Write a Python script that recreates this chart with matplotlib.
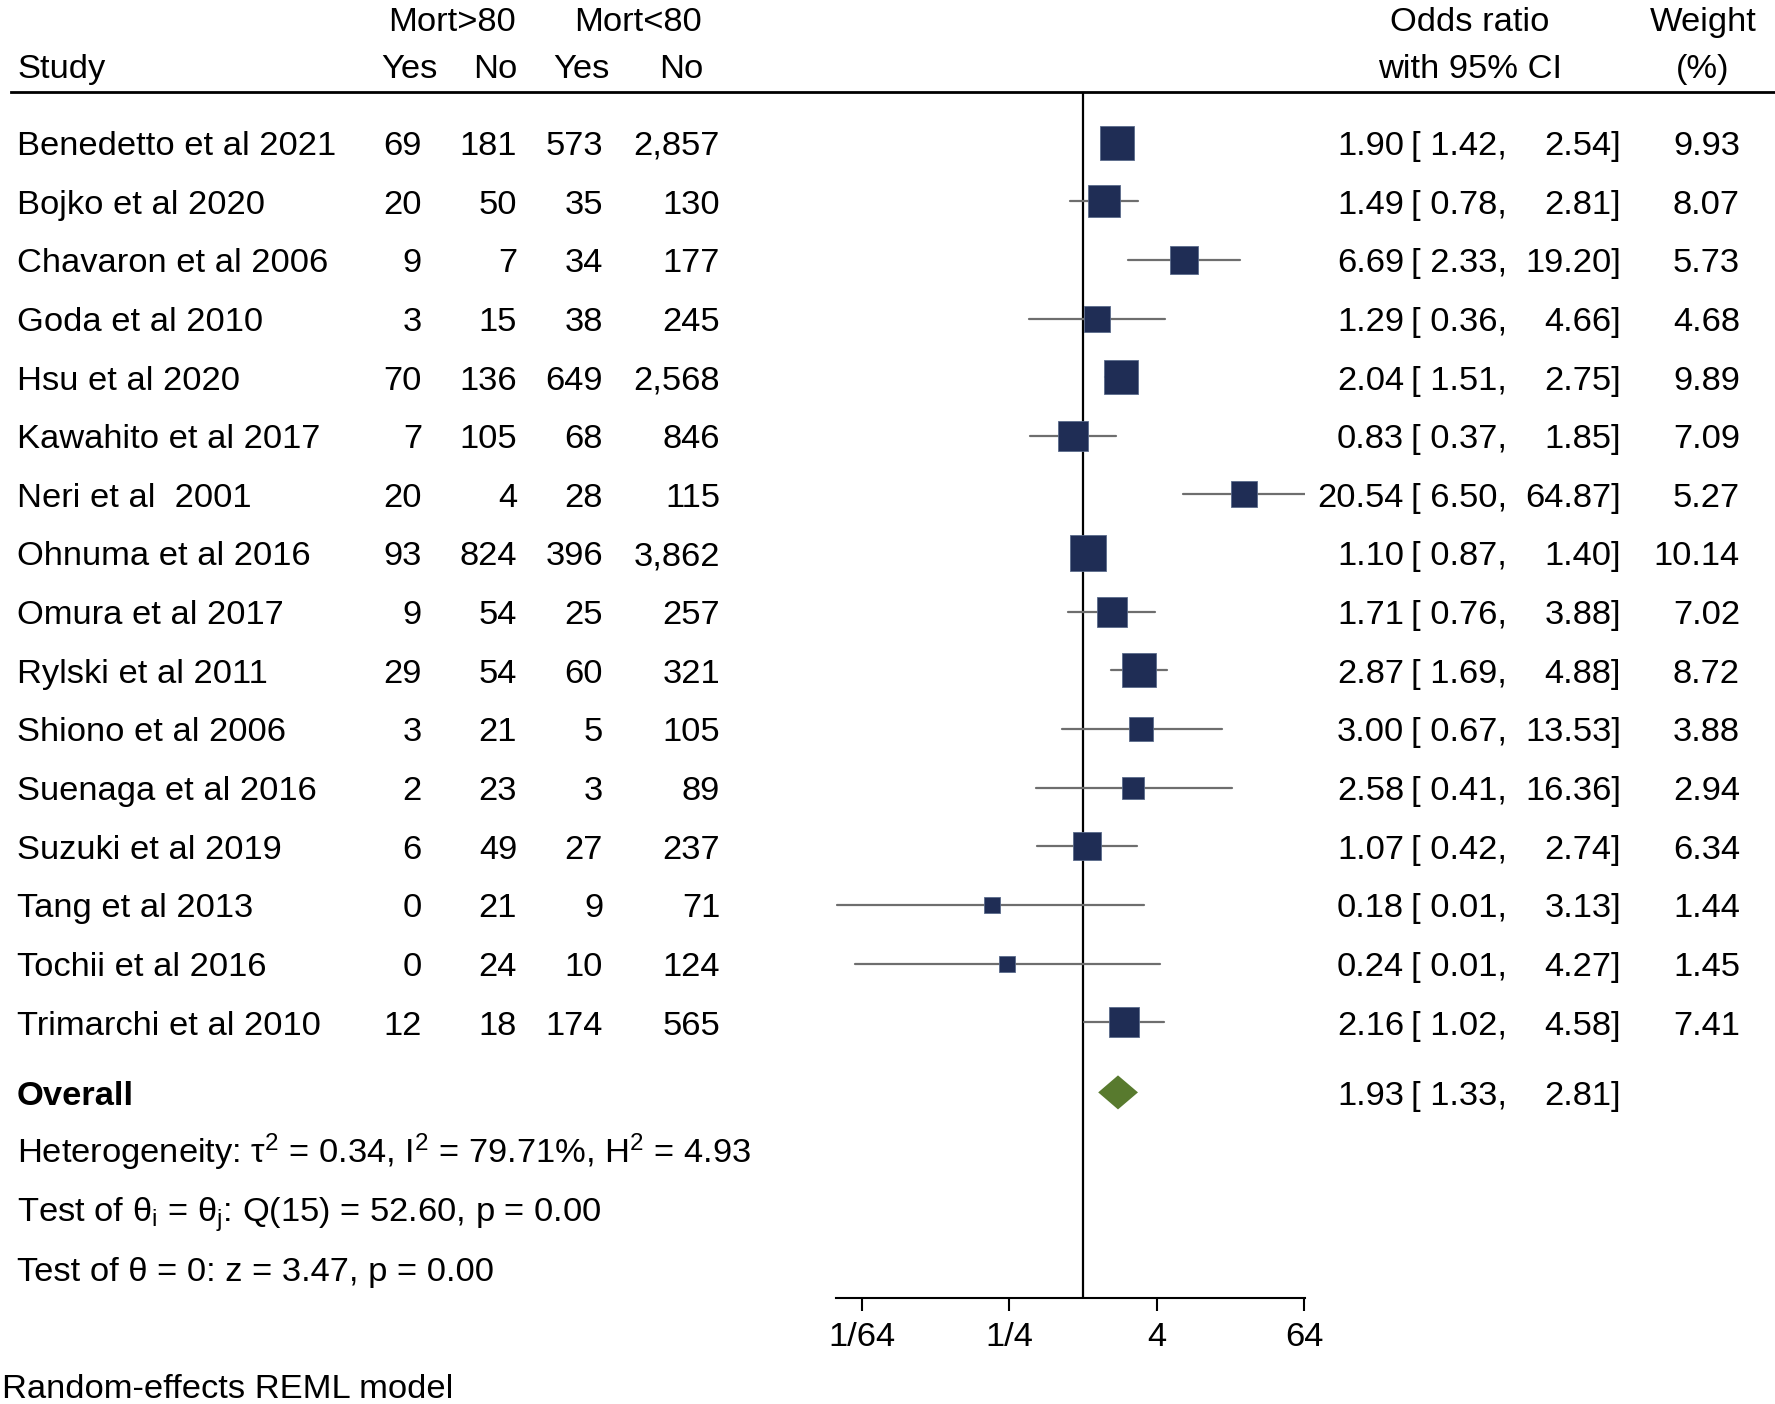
import matplotlib
matplotlib.use("Agg")
import matplotlib.pyplot as plt
import matplotlib.transforms as mtransforms
from matplotlib.lines import Line2D
import numpy as np

plt.rcParams['font.family'] = ['Liberation Sans', 'DejaVu Sans']
plt.rcParams['mathtext.fontset'] = 'custom'
plt.rcParams['mathtext.rm'] = 'Liberation Sans'
plt.rcParams['mathtext.it'] = 'Liberation Sans:italic'

studies = ["Benedetto et al 2021", "Bojko et al 2020", "Chavaron et al 2006",
           "Goda et al 2010", "Hsu et al 2020", "Kawahito et al 2017",
           "Neri et al  2001", "Ohnuma et al 2016", "Omura et al 2017",
           "Rylski et al 2011", "Shiono et al 2006", "Suenaga et al 2016",
           "Suzuki et al 2019", "Tang et al 2013", "Tochii et al 2016",
           "Trimarchi et al 2010"]
yes_gt80 = [69, 20, 9, 3, 70, 7, 20, 93, 9, 29, 3, 2, 6, 0, 0, 12]
no_gt80 = [181, 50, 7, 15, 136, 105, 4, 824, 54, 54, 21, 23, 49, 21, 24, 18]
yes_lt80 = [573, 35, 34, 38, 649, 68, 28, 396, 25, 60, 5, 3, 27, 9, 10, 174]
no_lt80 = [2857, 130, 177, 245, 2568, 846, 115, 3862, 257, 321, 105, 89, 237, 71, 124, 565]
odds = [1.90, 1.49, 6.69, 1.29, 2.04, 0.83, 20.54, 1.10, 1.71, 2.87, 3.00, 2.58, 1.07, 0.18, 0.24, 2.16]
ci_low = [1.42, 0.78, 2.33, 0.36, 1.51, 0.37, 6.50, 0.87, 0.76, 1.69, 0.67, 0.41, 0.42, 0.0097, 0.0137, 1.02]
ci_high = [2.54, 2.81, 19.20, 4.66, 2.75, 1.85, 64.87, 1.40, 3.88, 4.88, 13.53, 16.36, 2.74, 3.13, 4.27, 4.58]
weights = [9.93, 8.07, 5.73, 4.68, 9.89, 7.09, 5.27, 10.14, 7.02, 8.72, 3.88, 2.94, 6.34, 1.44, 1.45, 7.41]
overall = [1.93, 1.33, 2.81]
tick_vals = [1/64, 1/4, 4, 64]
tick_labels = ["1/64", "1/4", "4", "64"]
stats_lines = [r"Heterogeneity: τ$^{2}$ = 0.34, I$^{2}$ = 79.71%, H$^{2}$ = 4.93",
               r"Test of θ$_{\mathrm{i}}$ = θ$_{\mathrm{j}}$: Q(15) = 52.60, p = 0.00",
               "Test of θ = 0: z = 3.47, p = 0.00"]

W, H = 1775, 1404
FS = 24.8
navy = '#1F2D55'
grey = '#6E6E6E'
green = '#587A2E'

fig = plt.figure(figsize=(W / 100, H / 100), dpi=100)

# forest panel, placed in pixel terms
ax_left, ax_right = 836, 1305
ax_top, ax_bot = 92, 1298
ax = fig.add_axes([ax_left / W, 1 - ax_bot / H, (ax_right - ax_left) / W, (ax_bot - ax_top) / H])
ax.set_xscale('log', base=2)
ax.set_xlim(0.0096, 65.0)
row_h = 58.65
def row_of(ypx):
    return 1 + (ypx - 142.6) / row_h
ax.set_ylim(row_of(ax_bot), row_of(ax_top))
for s in ['top', 'right', 'left']:
    ax.spines[s].set_visible(False)
ax.spines['bottom'].set_linewidth(1.5)
ax.set_yticks([])
ax.set_xticks(tick_vals)
ax.set_xticklabels(tick_labels)
ax.xaxis.set_minor_locator(matplotlib.ticker.NullLocator())
ax.tick_params(axis='x', length=9, width=1.5, pad=8, labelsize=FS)
ax.patch.set_alpha(0)

ax.axvline(1, color='black', lw=1.6, zorder=1)

rows = np.arange(1, len(studies) + 1)
for r, o, lo, hi, w in zip(rows, odds, ci_low, ci_high, weights):
    ax.plot([lo, hi], [r, r], color=grey, lw=1.6, solid_capstyle='round', zorder=2)
    side = (5 + 9.5 * np.sqrt(w)) * 0.72
    ax.plot([o], [r], marker='s', ms=side, color=navy, mec='#5A6A8A', mew=0.6, zorder=3)

r_ov = row_of(1092.4)
est, lo, hi = overall
dh = 0.29
ax.fill([lo, est, hi, est], [r_ov, r_ov - dh, r_ov, r_ov + dh], color=green, zorder=3, lw=0)

# text columns: y given as visual centre of caps, drawn on baseline
tr = mtransforms.blended_transform_factory(fig.transFigure, ax.transData)
cap_half = FS * 100 / 72 * 0.716 / 2 / row_h
def txt(xpx, y, s, ha='left', **kw):
    fig.text(xpx / W, y + cap_half, s, ha=ha, va='baseline', fontsize=FS, transform=tr, **kw)

y1, y2 = row_of(19), row_of(66)
txt(452, y1, "Mort>80", ha='center')
txt(638, y1, "Mort<80", ha='center')
txt(17, y2, "Study")
txt(409, y2, "Yes", ha='center')
txt(495, y2, "No", ha='center')
txt(581, y2, "Yes", ha='center')
txt(681, y2, "No", ha='center')
txt(1470, y1, "Odds ratio", ha='center')
txt(1470, y2, "with 95% CI", ha='center')
txt(1703, y1, "Weight", ha='center')
txt(1703, y2, "(%)", ha='center')

fig.add_artist(Line2D([11 / W, 1], [1 - 92 / H, 1 - 92 / H], color='black', lw=2, transform=fig.transFigure))

for r, name, a, b, c, d, o, lo_, hi_, w in zip(rows, studies, yes_gt80, no_gt80, yes_lt80, no_lt80,
                                                odds, ci_low, ci_high, weights):
    txt(17, r, name)
    txt(422, r, f"{a:,}", ha='right')
    txt(517, r, f"{b:,}", ha='right')
    txt(603, r, f"{c:,}", ha='right')
    txt(720, r, f"{d:,}", ha='right')
    txt(1404, r, f"{o:.2f}", ha='right')
    txt(1411, r, f"[ {lo_:.2f},", ha='left')
    txt(1621, r, f"{hi_:.2f}]", ha='right')
    txt(1740, r, f"{w:.2f}", ha='right')

txt(17, r_ov, "Overall", fontweight='bold')
txt(1404, r_ov, f"{est:.2f}", ha='right')
txt(1411, r_ov, f"[ {lo:.2f},", ha='left')
txt(1621, r_ov, f"{hi:.2f}]", ha='right')

for i, s in enumerate(stats_lines):
    txt(17, r_ov + 1 + i, s)

txt(2, row_of(1386), "Random-effects REML model")

fig.savefig("out.png", dpi=100)
